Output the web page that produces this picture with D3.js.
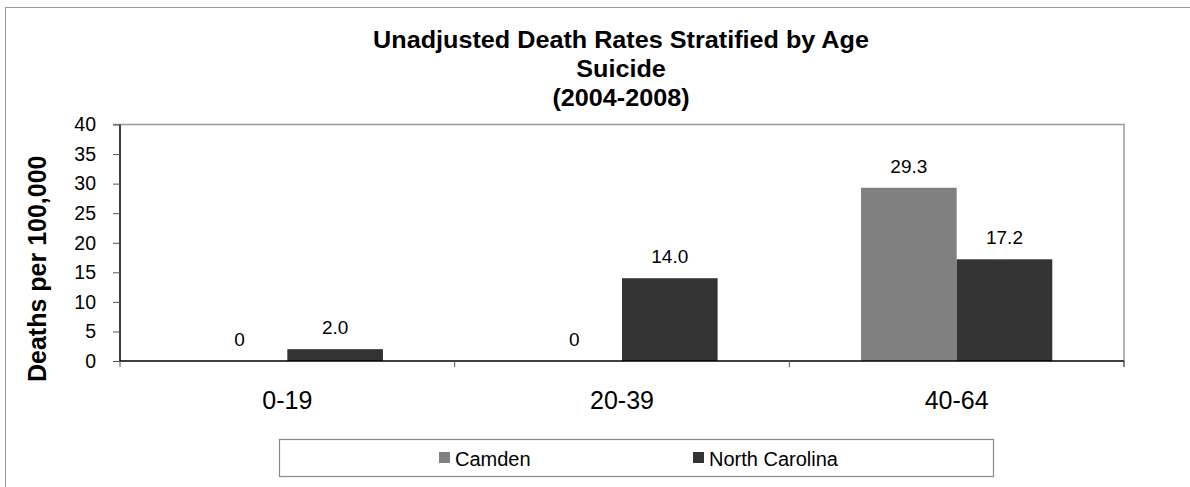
<!DOCTYPE html>
<html>
<head>
<meta charset="utf-8">
<script src="https://cdn.jsdelivr.net/npm/d3@7"></script>
<style>
  html, body { margin: 0; padding: 0; background: #fff; }
  svg { display: block; font-family: "Liberation Sans", Arial, sans-serif; }
</style>
</head>
<body>
<svg id="chart" width="1190" height="487"></svg>
<script>
// Age groups and rates per 100,000
const categories = ["0-19", "20-39", "40-64"];
const seriesNames = ["Camden", "North Carolina"];
const camden = [0, 0, 29.3];
const northCarolina = [2.0, 14.0, 17.2];
const yTicks = [0, 5, 10, 15, 20, 25, 30, 35, 40];
const titleLines = ["Unadjusted Death Rates Stratified by Age", "Suicide", "(2004-2008)"];
const yAxisTitle = "Deaths per 100,000";

const colors = { "Camden": "#808080", "North Carolina": "#333333" };

const rows = categories.map((c, i) => ({
  category: c,
  values: [
    { series: "Camden", value: camden[i] },
    { series: "North Carolina", value: northCarolina[i] }
  ]
}));

const svg = d3.select("#chart");

// Outer chart frame
svg.append("rect")
  .attr("x", 5.5).attr("y", 7.5)
  .attr("width", 1200).attr("height", 500)
  .attr("fill", "none").attr("stroke", "#9a9a9a").attr("stroke-width", 1);

const plot = { left: 120, right: 1124, top: 124.5, bottom: 361 };

const x0 = d3.scaleBand().domain(categories).range([plot.left, plot.right]).padding(0);
const x1 = d3.scaleBand().domain(seriesNames).range([0, x0.bandwidth()])
  .paddingInner(0).paddingOuter(0.75);
const y = d3.scaleLinear().domain([0, 40]).range([plot.bottom, plot.top]);

// Plot area frame (top and right edges)
svg.append("path")
  .attr("d", `M${plot.left - 7},${plot.top}H${plot.right}V${plot.bottom + 6}`)
  .attr("fill", "none").attr("stroke", "#999").attr("stroke-width", 1.5);

// Bars
const groups = svg.append("g").selectAll("g")
  .data(rows).join("g")
  .attr("transform", d => `translate(${x0(d.category)},0)`);

groups.selectAll("rect")
  .data(d => d.values).join("rect")
  .attr("x", d => x1(d.series))
  .attr("y", d => y(d.value))
  .attr("width", x1.bandwidth())
  .attr("height", d => y(0) - y(d.value))
  .attr("fill", d => colors[d.series]);

// Value labels
const fmt = v => v === 0 ? "0" : d3.format(".1f")(v);
groups.selectAll("text")
  .data(d => d.values).join("text")
  .attr("x", d => x1(d.series) + x1.bandwidth() / 2)
  .attr("y", d => y(d.value) - 15)
  .attr("text-anchor", "middle")
  .attr("font-size", 19)
  .attr("fill", "#000")
  .text(d => fmt(d.value));

// Y axis
const yAxis = svg.append("g")
  .attr("transform", `translate(${plot.left},0)`)
  .call(d3.axisLeft(y).tickValues(yTicks).tickSize(7).tickPadding(17).tickFormat(d3.format("d")));
yAxis.select(".domain").attr("stroke", "#000").attr("stroke-width", 1.5)
  .attr("d", `M0,${plot.top}V${plot.bottom}`);
yAxis.selectAll(".tick line").attr("stroke", "#555");
yAxis.selectAll(".tick text").attr("font-size", 19.5).attr("fill", "#000")
  .attr("font-family", "Liberation Sans, Arial, sans-serif");

// X axis
const xAxis = svg.append("g")
  .attr("transform", `translate(0,${plot.bottom})`)
  .call(d3.axisBottom(x0).tickSize(0).tickPadding(30));
xAxis.select(".domain").attr("stroke", "#000").attr("stroke-width", 1.5)
  .attr("d", `M${plot.left},0H${plot.right}`);
xAxis.selectAll(".tick text").attr("font-size", 25).attr("fill", "#000")
  .attr("font-family", "Liberation Sans, Arial, sans-serif");

// Category separators on the x axis
const seps = [plot.left, ...categories.map(c => x0(c) + x0.bandwidth())];
svg.append("g").selectAll("line")
  .data(seps).join("line")
  .attr("x1", d => d).attr("x2", d => d)
  .attr("y1", plot.bottom).attr("y2", plot.bottom + 6)
  .attr("stroke", "#555").attr("stroke-width", 1);

// Title
svg.append("text")
  .attr("text-anchor", "middle")
  .attr("font-size", 24).attr("font-weight", "bold")
  .attr("transform", "translate(621,0) scale(1.05,1)")
  .selectAll("tspan").data(titleLines).join("tspan")
  .attr("x", 0)
  .attr("y", (d, i) => 48 + i * 29)
  .text(d => d);

// Y axis title
svg.append("text")
  .attr("transform", "translate(46,382) rotate(-90)")
  .attr("text-anchor", "start")
  .attr("font-size", 25).attr("font-weight", "bold")
  .text(yAxisTitle);

// Legend
const legend = svg.append("g");
legend.append("rect")
  .attr("x", 279.5).attr("y", 439.5).attr("width", 714).attr("height", 37)
  .attr("fill", "#fff").attr("stroke", "#888").attr("stroke-width", 1.2);
const legendX = [439, 693];
const items = legend.selectAll("g.item")
  .data(seriesNames).join("g")
  .attr("class", "item")
  .attr("transform", (d, i) => `translate(${legendX[i]},0)`);
items.append("rect")
  .attr("x", 0).attr("y", 452).attr("width", 11).attr("height", 11)
  .attr("fill", d => colors[d]);
items.append("text")
  .attr("x", 16).attr("y", 466)
  .attr("font-size", 20).attr("fill", "#000")
  .text(d => d);
</script>
</body>
</html>
